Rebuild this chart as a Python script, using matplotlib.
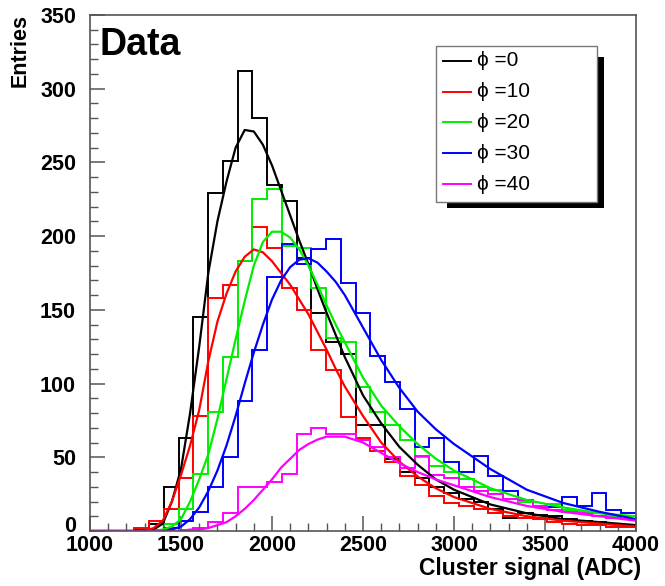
import numpy as np
import matplotlib.pyplot as plt
import matplotlib.transforms as mtransforms
from matplotlib.patches import Rectangle

plt.rcParams['font.family'] = ['Liberation Sans', 'DejaVu Sans']

# histogram binning (37 bins between 1000 and 4000 ADC)
bin_edges = np.linspace(1000, 4000, 38)

phi_labels = ["0", "10", "20", "30", "40"]
colors = ["black", "#ff0000", "#00ee00", "#0000ff", "#ff00ff"]

hist_phi0 = [0, 0, 0, 1, 5, 30, 63, 145, 229, 251, 312, 280, 235, 224, 185, 148, 128, 120, 72,
             72, 49, 40, 36, 30, 26, 22, 20, 15, 9, 12, 11, 10, 8, 7, 6, 5, 4]
hist_phi10 = [0, 0, 0, 2, 7, 15, 36, 78, 158, 167, 183, 206, 192, 165, 150, 123, 109, 77, 63,
              54, 47, 37, 31, 24, 19, 17, 15, 12, 10, 9, 8, 6, 5, 4, 4, 3, 3]
hist_phi20 = [0, 0, 0, 0, 1, 5, 15, 39, 81, 118, 183, 225, 232, 193, 192, 165, 131, 128, 98,
              81, 72, 62, 50, 44, 40, 35, 30, 28, 22, 20, 17, 18, 14, 13, 12, 10, 10]
hist_phi30 = [0, 0, 0, 0, 0, 2, 7, 13, 30, 50, 88, 123, 172, 195, 181, 191, 198, 168, 148,
              119, 101, 83, 57, 63, 47, 40, 51, 37, 27, 21, 16, 16, 23, 17, 26, 14, 12]
hist_phi40 = [0, 0, 0, 0, 0, 0, 1, 2, 6, 12, 30, 30, 33, 39, 66, 70, 66, 66, 62,
              57, 50, 43, 51, 38, 36, 30, 27, 25, 22, 21, 17, 14, 13, 12, 10, 9, 8]

# fitted curves
fit_x = [1000, 1300, 1350, 1400, 1450, 1500, 1550, 1600, 1650, 1700, 1750, 1800, 1850,
         1900, 1950, 2000, 2050, 2100, 2150, 2200, 2250, 2300, 2350, 2400, 2500, 2600,
         2700, 2800, 2900, 3000, 3200, 3400, 3600, 3800, 4000]
fit_phi0 = [0, 0, 1, 5, 20, 42, 80, 125, 175, 210, 237, 260, 272, 271, 262, 248, 231, 214,
            197, 181, 164, 148, 133, 118, 92, 73, 57, 45, 35, 28, 18, 12, 8, 6, 4]
fit_phi10 = [0, 0, 2, 7, 20, 38, 58, 82, 115, 142, 161, 176, 186, 191, 189, 183, 175, 167,
             157, 147, 135, 123, 110, 98, 78, 60, 47, 37, 29, 23, 15, 10, 7, 5, 3]
fit_phi20 = [0, 0, 0, 1, 3, 8, 20, 35, 52, 76, 103, 130, 156, 180, 196, 203, 203, 199,
             191, 180, 167, 153, 140, 128, 104, 85, 71, 59, 49, 41, 29, 21, 16, 12, 10]
fit_phi30 = [0, 0, 0, 0, 1, 3, 8, 16, 27, 41, 58, 78, 100, 121, 140, 157, 170, 179,
             184, 185, 182, 176, 169, 160, 138, 116, 97, 81, 69, 59, 42, 28, 19, 13, 8]
fit_phi40 = [0, 0, 0, 0, 0, 0, 1, 1, 2, 4, 6, 10, 15, 21, 28, 35, 43, 49,
             55, 59, 62, 64, 64, 64, 60, 53, 46, 40, 35, 31, 23, 17, 13, 10, 7]

hists = [hist_phi0, hist_phi10, hist_phi20, hist_phi30, hist_phi40]
fits = [fit_phi0, fit_phi10, fit_phi20, fit_phi30, fit_phi40]

W, H = 665, 586
fig = plt.figure(figsize=(W / 100, H / 100), dpi=100)
ax = fig.add_axes([90 / W, 1 - 531 / H, (636 - 90) / W, (531 - 15) / H])

for h, f, c in zip(hists, fits, colors):
    ax.stairs(h, bin_edges, baseline=0, color=c, lw=1.4)
    ax.plot(fit_x, f, color=c, lw=1.6)

ax.set_xlim(1000, 4000)
ax.set_ylim(0, 350)
ax.set_xticks(np.arange(1000, 4001, 500))
ax.set_xticks(np.arange(1000, 4001, 100), minor=True)
ax.set_yticks(np.arange(0, 351, 50))
ax.set_yticks(np.arange(0, 351, 10), minor=True)
ax.tick_params(which='major', direction='in', length=11, width=1.1, color='#555555',
               labelsize=15.5)
ax.tick_params(axis='y', which='major', pad=10)
ax.tick_params(axis='x', which='major', pad=3)
ax.tick_params(which='minor', direction='in', length=5.5, width=1.0, color='#555555')
for lab in ax.get_xticklabels() + ax.get_yticklabels():
    lab.set_fontweight('bold')
# lift the "0" label a little so it clears "1000"
zero_lab = ax.get_yticklabels()[0]
zero_lab.set_transform(zero_lab.get_transform() +
                       mtransforms.ScaledTranslation(0, 5 / 72, fig.dpi_scale_trans))
for sp in ax.spines.values():
    sp.set_color('#555555')
    sp.set_linewidth(1.2)


def px(x, y):
    return (x / W, 1 - y / H)


fig.text(*px(100, 45), "Data", fontsize=27, fontweight='bold', va='center', ha='left')
fig.text(*px(20, 14), "Entries", rotation=90, fontsize=15.5, fontweight='bold',
         ha='center', va='top')
fig.text(*px(641, 569), "Cluster signal (ADC)", fontsize=16.5, fontweight='bold',
         ha='right', va='center')

# legend with ROOT-style black shadow
fig.add_artist(Rectangle(px(446.7, 208.3), (604 - 446.7) / W, (208.3 - 56.7) / H,
                         transform=fig.transFigure, facecolor='black', edgecolor='none',
                         zorder=5))
fig.add_artist(Rectangle(px(436, 201.7), (597.3 - 436) / W, (201.7 - 46) / H,
                         transform=fig.transFigure, facecolor='white', edgecolor='#777777',
                         lw=1.0, zorder=6))
row_y = [60.7, 91.7, 122.3, 153.3, 184]
for lbl, c, ry in zip(phi_labels, colors, row_y):
    fig.add_artist(plt.Line2D([443 / W, 471 / W], [1 - ry / H, 1 - ry / H],
                              transform=fig.transFigure, color=c, lw=1.4, zorder=7))
    fig.text(*px(477, ry), "ϕ =" + lbl, fontsize=15, va='center', ha='left', zorder=7)

fig.savefig("out.png", dpi=100)
